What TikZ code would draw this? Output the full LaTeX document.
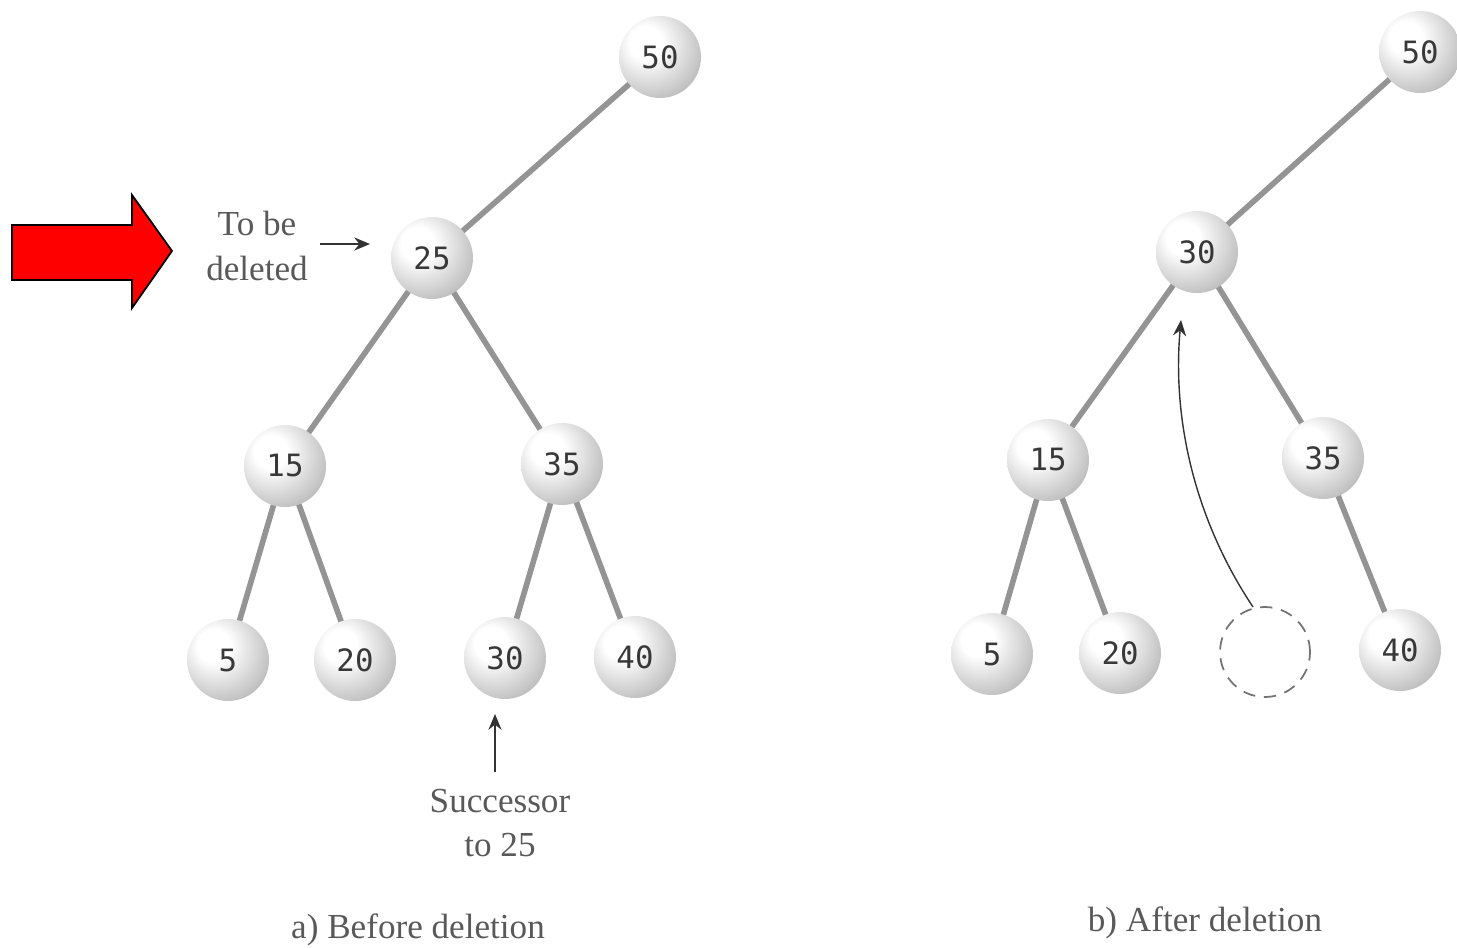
\documentclass[tikz,border=0pt]{standalone}
\usepackage{fontspec}
\setmainfont{Liberation Serif}
\newfontfamily\digitfont{DejaVu Sans Mono}
\usetikzlibrary{arrows.meta,backgrounds}
\pgfdeclareradialshading{sphereshade}{\pgfpoint{-10bp}{10bp}}{%
  color(0bp)=(white);
  color(10bp)=(white);
  color(30bp)=(black!22);
  color(46bp)=(black!42);
  color(62bp)=(black!52);
  color(80bp)=(black!52)}
\begin{document}
\begin{tikzpicture}[x=0.02cm,y=-0.02cm,
  ball/.style={circle, minimum size=1.64cm, inner sep=0pt, shading=sphereshade,
     font=\digitfont\fontsize{17.5}{20}\selectfont, text=black!78},
  hole/.style={circle, minimum size=1.8cm, inner sep=0pt, draw=black!55,
     dash pattern=on 7pt off 5pt, line width=1pt},
  edge/.style={line width=3.2pt, draw=black!42},
  lbl/.style={font=\fontsize{20}{25.5}\selectfont, text=black!65, align=center},
  ptr/.style={-{Stealth[length=9pt,width=7.5pt]}, line width=0.8pt, draw=black!80},
  redarrow/.style={draw=black, line width=1pt, fill=red}]
\useasboundingbox (0,0) rectangle (1457,947);
% left tree
\node[ball] (a50) at (660,57) {50};
\node[ball] (a25) at (432,258) {25};
\node[ball] (a15) at (285,466) {15};
\node[ball] (a35) at (562,464) {35};
\node[ball] (a5)  at (228,660) {5};
\node[ball] (a20) at (355,660) {20};
\node[ball] (a30) at (505,658) {30};
\node[ball] (a40) at (635,657) {40};
% right tree
\node[ball] (b50) at (1420,52) {50};
\node[ball] (b30) at (1197,252) {30};
\node[ball] (b15) at (1048,460) {15};
\node[ball] (b35) at (1323,458) {35};
\node[ball] (b5)  at (992,654) {5};
\node[ball] (b20) at (1120,653) {20};
\node[hole] (bh)  at (1265,652) {};
\node[ball] (b40) at (1400,650) {40};
% edges
\begin{scope}[on background layer]
\foreach \u/\v in {a50/a25,a25/a15,a25/a35,a15/a5,a15/a20,a35/a30,a35/a40,
                   b50/b30,b30/b15,b30/b35,b15/b5,b15/b20,b35/b40}
  {\path[edge] (\u.center) -- (\v.center);}
\end{scope}
% labels
\node[lbl] (tbd) at (257,246) {To be\\deleted};
\coordinate (tbdS) at (320,244);
\coordinate (tbdE) at (370,244);
\draw[ptr] (tbdS) -- (tbdE);
\node[lbl] (succ) at (500,823) {Successor\\to 25};
\coordinate (sucS) at (495,772);
\coordinate (sucE) at (495,714);
\draw[ptr] (sucS) -- (sucE);
\node[lbl] (capa) at (418,930) {a) Before deletion};
\node[lbl] (capb) at (1205,923) {b) After deletion};
% curved arrow
\coordinate (cS) at (1253,607);
\coordinate (cE) at (1181,320);
\draw[ptr] (cS) .. controls (1195,520) and (1172,420) .. (cE);
% red block arrow
\draw[redarrow] (12,225) -- (132,225) -- (132,195) -- (172,251) -- (132,308)
  -- (132,280) -- (12,280) -- cycle;
\end{tikzpicture}
\end{document}
